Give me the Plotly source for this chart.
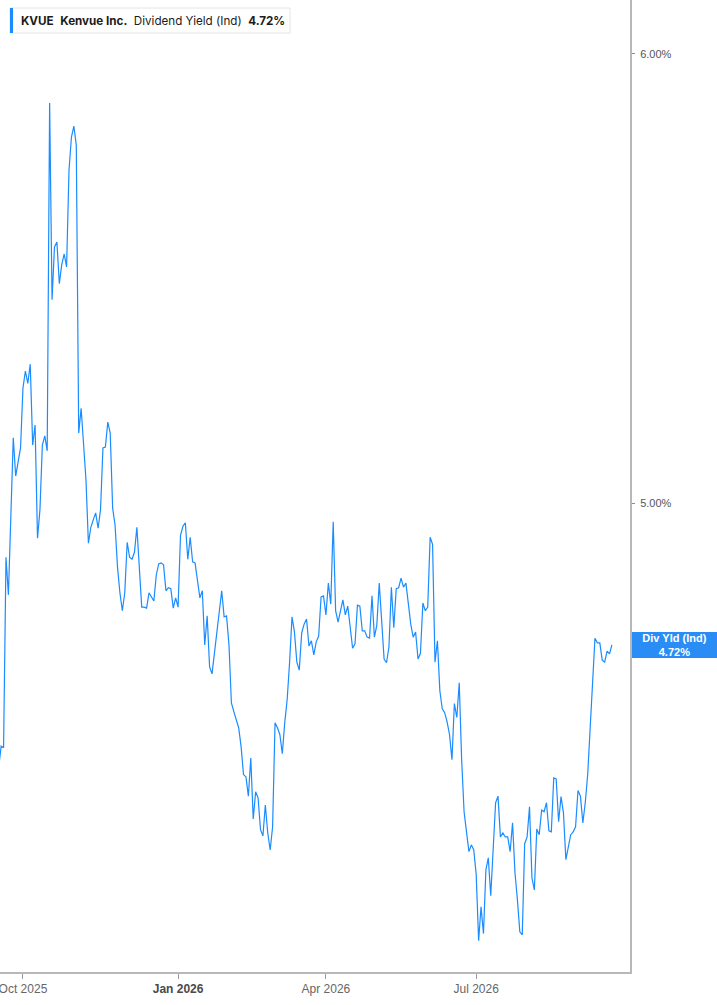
import math
import plotly.graph_objects as go
import pandas as pd

# ---- data ----
yield_pct = [
    4.492, 4.530, 4.527, 4.891, 4.817, 4.974, 5.134, 5.055, 5.084, 5.113,
    5.239, 5.275, 5.249, 5.290, 5.119, 5.161, 4.929, 4.986, 5.119, 5.138,
    5.107, 5.882, 5.430, 5.548, 5.559, 5.466, 5.508, 5.532, 5.503, 5.724,
    5.801, 5.827, 5.782, 5.144, 5.196, 5.115, 5.047, 4.919, 4.951, 4.966,
    4.980, 4.949, 4.986, 5.113, 5.115, 5.167, 5.144, 4.990, 4.955, 4.872,
    4.821, 4.786, 4.821, 4.921, 4.891, 4.887, 4.901, 4.951, 4.872, 4.793,
    4.793, 4.791, 4.821, 4.813, 4.805, 4.856, 4.878, 4.880, 4.876, 4.825,
    4.831, 4.829, 4.791, 4.811, 4.793, 4.935, 4.953, 4.960, 4.887, 4.931,
    4.882, 4.880, 4.850, 4.811, 4.825, 4.720, 4.776, 4.678, 4.665, 4.704,
    4.743, 4.784, 4.825, 4.774, 4.776, 4.720, 4.610, 4.594, 4.581, 4.564,
    4.529, 4.478, 4.474, 4.439, 4.508, 4.398, 4.447, 4.436, 4.379, 4.368,
    4.423, 4.373, 4.343, 4.384, 4.573, 4.564, 4.551, 4.516, 4.573, 4.616,
    4.686, 4.774, 4.745, 4.687, 4.672, 4.743, 4.760, 4.770, 4.718, 4.728,
    4.701, 4.726, 4.737, 4.813, 4.815, 4.778, 4.840, 4.799, 4.962, 4.786,
    4.764, 4.784, 4.807, 4.778, 4.795, 4.755, 4.714, 4.722, 4.797, 4.795,
    4.747, 4.747, 4.735, 4.733, 4.815, 4.735, 4.758, 4.840, 4.762, 4.693,
    4.686, 4.716, 4.832, 4.753, 4.829, 4.831, 4.850, 4.832, 4.840, 4.797,
    4.760, 4.735, 4.745, 4.693, 4.704, 4.801, 4.786, 4.793, 4.931, 4.917,
    4.687, 4.728, 4.633, 4.599, 4.592, 4.575, 4.551, 4.505, 4.609, 4.583,
    4.648, 4.505, 4.411, 4.375, 4.340, 4.352, 4.343, 4.300, 4.186, 4.244,
    4.198, 4.308, 4.329, 4.263, 4.338, 4.427, 4.439, 4.366, 4.373, 4.366,
    4.366, 4.340, 4.391, 4.303, 4.256, 4.201, 4.196, 4.354, 4.366, 4.420,
    4.294, 4.273, 4.380, 4.370, 4.414, 4.411, 4.427, 4.377, 4.375, 4.472,
    4.470, 4.393, 4.438, 4.409, 4.326, 4.347, 4.370, 4.375, 4.384, 4.449,
    4.439, 4.391, 4.427, 4.478, 4.566, 4.667, 4.733, 4.724, 4.724, 4.691,
    4.687, 4.708, 4.703, 4.720,
]
start_date = "2025-09-17"
market_holidays = [
    "2025-11-27", "2025-12-25", "2026-01-01", "2026-01-19", "2026-02-16",
    "2026-04-03", "2026-05-25", "2026-06-19", "2026-07-03", "2026-09-07",
]
tick_dates = ["2025-10-01", "2026-01-02", "2026-04-01", "2026-07-01"]
tick_labels = ["Oct 2025", "<b><span style='color:#4a4a4a'>Jan 2026</span></b>", "Apr 2026", "Jul 2026"]
y_ticks = [5.0, 6.0]
y_tick_labels = ["5.00%", "6.00%"]
ticker = "KVUE"
company = "Kenvue Inc."
metric = "Dividend Yield (Ind)"
badge_label = "Div Yld (Ind)"

# ---- build ----
bday = pd.offsets.CustomBusinessDay(holidays=market_holidays)
dates = pd.date_range(start_date, periods=len(yield_pct), freq=bday)
last_val = yield_pct[-1]
x_start = dates[1] - pd.Timedelta(hours=11.4)
x_end = dates[1] + 259 * bday + pd.Timedelta(hours=11)

LINE = "#1a8cff"
fig = go.Figure()
fig.add_trace(go.Scatter(
    x=dates, y=yield_pct, mode="lines",
    line=dict(color=LINE, width=1.2), hoverinfo="skip", showlegend=False,
))

W, H = 717, 1005
ML, MR, MT, MB = 0, 87, 0, 33
PW, PH = W - ML - MR, H - MT - MB

def px(x):
    return x / PW

def py(y):
    return 1 - y / PH

fig.update_layout(
    width=W, height=H,
    margin=dict(l=ML, r=MR, t=MT, b=MB, pad=0),
    paper_bgcolor="white", plot_bgcolor="white",
    showlegend=False,
    xaxis=dict(
        type="date", automargin=False,
        range=[x_start, x_end],
        rangebreaks=[dict(bounds=["sat", "mon"]), dict(values=market_holidays)],
        tickvals=tick_dates, ticktext=tick_labels,
        ticks="outside", ticklen=5, tickwidth=1, tickcolor="#9a9a9a",
        showline=True, linecolor="#b8b8b8", linewidth=2,
        showgrid=False, zeroline=False,
        ticklabeloverflow="allow",
        tickfont=dict(family="Liberation Sans, Arial, sans-serif", size=12, color="#666666"),
    ),
    yaxis=dict(
        type="log", side="right", automargin=False,
        range=[0.61627, 0.78767],
        tickvals=y_ticks, ticktext=y_tick_labels,
        ticks="outside", ticklen=3, tickwidth=1, tickcolor="#8a8a8a",
        ticklabelstandoff=3,
        showline=True, linecolor="#b8b8b8", linewidth=2,
        showgrid=False, zeroline=False,
        tickfont=dict(family="Liberation Sans, Arial, sans-serif", size=11, color="#555555"),
    ),
)

# header box
fig.add_shape(type="rect", xref="paper", yref="paper",
              x0=px(10), x1=px(290), y0=py(33), y1=py(8),
              fillcolor="white", line=dict(color="#e4e4e4", width=1), layer="above")
fig.add_shape(type="rect", xref="paper", yref="paper",
              x0=px(10), x1=px(13), y0=py(33), y1=py(8),
              fillcolor=LINE, line=dict(width=0), layer="above")
header = (f"<b>{ticker}</b>&nbsp;&nbsp;<b>{company}</b>&nbsp;&nbsp;"
          f"{metric}&nbsp;&nbsp;<b>{last_val:.2f}%</b>")
fig.add_annotation(
    xref="paper", yref="paper", x=px(20), y=py(20.5),
    xanchor="left", yanchor="middle", showarrow=False,
    text=header, align="left", borderpad=0,
    font=dict(family="Inter, Roboto, sans-serif", size=11.65, color="#1c1c1c"),
)

# last value badge
fig.add_annotation(
    xref="paper", yref="y", x=1, y=math.log10(last_val),
    xanchor="left", yanchor="middle", xshift=2, showarrow=False,
    text=f"<b>{badge_label}<br>{last_val:.2f}%</b>",
    width=85, height=26, align="center",
    font=dict(family="Liberation Sans, Arial, sans-serif", size=11, color="white"),
    bgcolor="#2a8df5", borderpad=0, borderwidth=0,
)

fig.write_html("out.html", config={"displayModeBar": False},
               post_script="document.body.style.margin='0px';")
